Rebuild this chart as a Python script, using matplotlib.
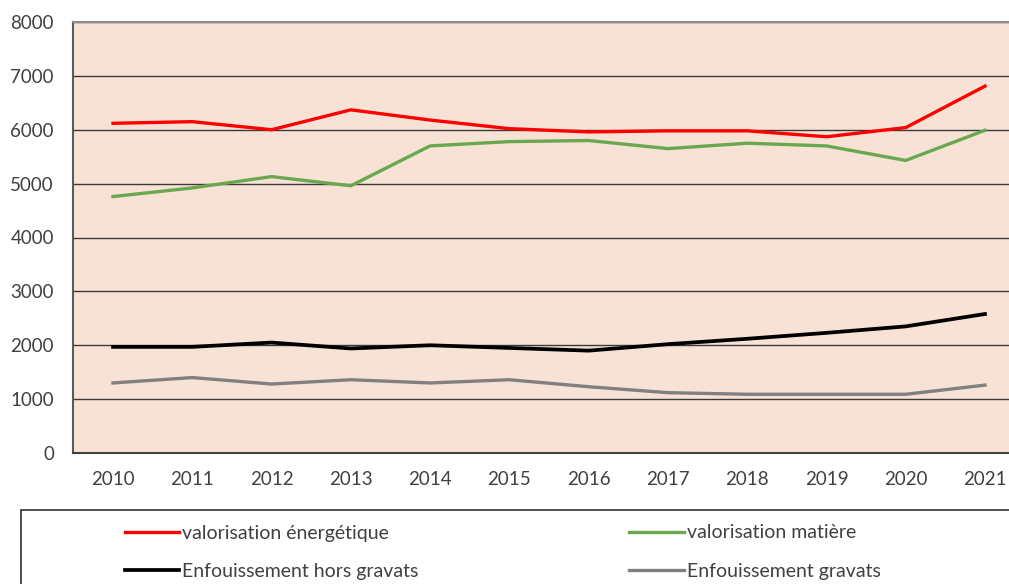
import matplotlib
matplotlib.use('Agg')
import matplotlib.pyplot as plt
from matplotlib.patches import Rectangle

plt.rcParams['font.family'] = ['Lato', 'DejaVu Sans']

# Data
years = [2010, 2011, 2012, 2013, 2014, 2015, 2016, 2017, 2018, 2019, 2020, 2021]
valo_energetique = [6120, 6150, 6000, 6370, 6180, 6020, 5960, 5980, 5980, 5870, 6040, 6810]
valo_matiere = [4760, 4920, 5130, 4960, 5700, 5780, 5800, 5650, 5750, 5700, 5430, 5990]
enfouissement_hors = [1970, 1970, 2050, 1940, 2000, 1950, 1900, 2020, 2120, 2230, 2350, 2580]
enfouissement_gravats = [1300, 1400, 1280, 1360, 1300, 1360, 1230, 1120, 1090, 1090, 1090, 1260]

W, H = 1009, 584
fig = plt.figure(figsize=(W / 100, H / 100), dpi=100)
fig.patch.set_facecolor('white')

# plot area runs a bit past the right edge, as in the reference
ax = fig.add_axes([73.4 / W, 1 - 453 / H, 951.2 / W, 431 / H])
ax.set_facecolor('#f8e2d6')

ax.plot(years, valo_energetique, color='#ff0000', lw=2.4, label='valorisation énergétique')
ax.plot(years, valo_matiere, color='#6aa84f', lw=2.4, label='valorisation matière')
ax.plot(years, enfouissement_hors, color='black', lw=2.7, label='Enfouissement hors gravats')
ax.plot(years, enfouissement_gravats, color='#808080', lw=2.4, label='Enfouissement gravats')

ax.set_xlim(2009.5, 2021.5)
ax.set_ylim(0, 8000)
ax.set_xticks(years)
ax.set_yticks(range(0, 8001, 1000))
ax.yaxis.grid(True, color='#3a3a3a', lw=1)
ax.set_axisbelow(True)
ax.tick_params(length=0, labelsize=13.5, colors='#404040')
ax.tick_params(axis='y', pad=14)
ax.tick_params(axis='x', pad=13)

ax.spines['right'].set_visible(False)
ax.spines['top'].set_color('#8c8c8c')
ax.spines['top'].set_linewidth(1.5)
ax.spines['left'].set_color('#5a5a5a')
ax.spines['left'].set_linewidth(1.5)
ax.spines['bottom'].set_color('#404040')
ax.spines['bottom'].set_linewidth(1.5)

# legend box framed across the bottom
fig.patches.append(Rectangle((21 / W, -0.05), 1.05, 0.05 + (1 - 510 / H),
                             transform=fig.transFigure, fill=False,
                             edgecolor='#303030', lw=1.2))

handles, labels = ax.get_legend_handles_labels()
order = [0, 2, 1, 3]
fig.legend([handles[i] for i in order], [labels[i] for i in order],
           loc='upper left', bbox_to_anchor=(107 / W, 1 - 507 / H),
           ncol=2, frameon=False, fontsize=14, handlelength=2.8,
           handletextpad=0.15, columnspacing=10.85, labelspacing=1.1,
           labelcolor='#404040')

fig.savefig('out.png', dpi=100)
